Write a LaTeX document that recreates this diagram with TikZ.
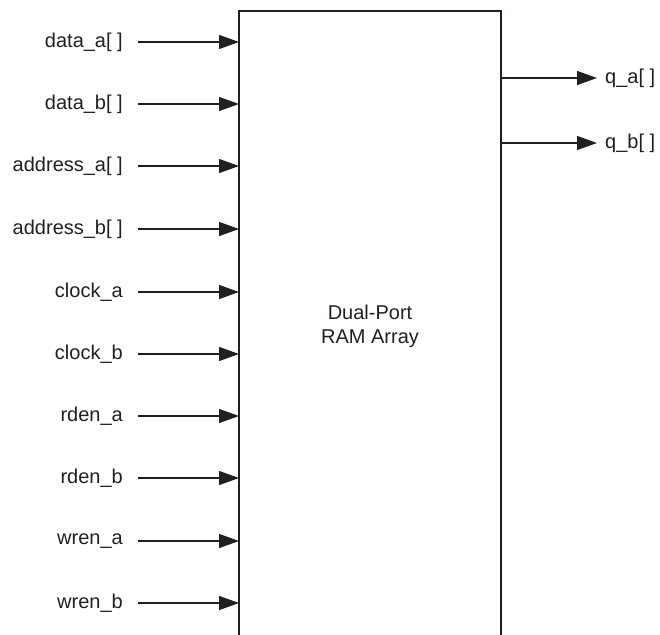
\documentclass[tikz,border=0pt]{standalone}
\usepackage{fontspec}
\setmainfont{Liberation Sans}
\usetikzlibrary{arrows.meta}

\begin{document}
\begin{tikzpicture}[x=1pt, y=-1pt,
    inlbl/.style={anchor=east, inner xsep=15pt, inner ysep=0pt, font=\fontsize{20}{24}\selectfont},
    outlbl/.style={anchor=west, inner xsep=8pt, inner ysep=0pt, font=\fontsize{20}{24}\selectfont},
    sig/.style={line width=1.3pt, -{Triangle[length=20pt, width=14pt]}}]
  \definecolor{ink}{RGB}{35,31,32}
  \useasboundingbox (0,0) rectangle (660,634);
  \begin{scope}[color=ink]

  % Draw the RAM block (open at the bottom)
  \coordinate (boxNW) at (239,11);
  \coordinate (boxNE) at (501,11);
  \draw[line width=2.6pt, line join=miter] (boxNW |- 0,640) -- (boxNW) -- (boxNE) -- (boxNE |- 0,640);
  \node[font=\fontsize{20}{24}\selectfont, align=center] (ram) at (370,326) {Dual-Port\\RAM Array};

  % Add input labels
  \node[inlbl] (dataA) at (138,42) {data\_a[ ]};
  \node[inlbl] (dataB) at (138,104) {data\_b[ ]};
  \node[inlbl] (addrA) at (138,166) {address\_a[ ]};
  \node[inlbl] (addrB) at (138,229) {address\_b[ ]};
  \node[inlbl] (clkA) at (138,292) {clock\_a};
  \node[inlbl] (clkB) at (138,354) {clock\_b};
  \node[inlbl] (rdenA) at (138,416) {rden\_a};
  \node[inlbl] (rdenB) at (138,478) {rden\_b};
  \node[inlbl] (wrenA) at (138,541) {wren\_a};
  \node[inlbl] (wrenB) at (138,603) {wren\_b};

  % Draw input arrows
  \draw[sig] (dataA.east) -- (dataA.east -| boxNW);
  \draw[sig] (dataB.east) -- (dataB.east -| boxNW);
  \draw[sig] (addrA.east) -- (addrA.east -| boxNW);
  \draw[sig] (addrB.east) -- (addrB.east -| boxNW);
  \draw[sig] (clkA.east) -- (clkA.east -| boxNW);
  \draw[sig] (clkB.east) -- (clkB.east -| boxNW);
  \draw[sig] (rdenA.east) -- (rdenA.east -| boxNW);
  \draw[sig] (rdenB.east) -- (rdenB.east -| boxNW);
  \draw[sig] (wrenA.east) -- (wrenA.east -| boxNW);
  \draw[sig] (wrenB.east) -- (wrenB.east -| boxNW);

  % Add outputs
  \node[outlbl] (qA) at (597,78) {q\_a[ ]};
  \node[outlbl] (qB) at (597,143) {q\_b[ ]};
  \draw[sig] (qA.west -| boxNE) -- (qA.west);
  \draw[sig] (qB.west -| boxNE) -- (qB.west);
  \end{scope}
\end{tikzpicture}
\end{document}
